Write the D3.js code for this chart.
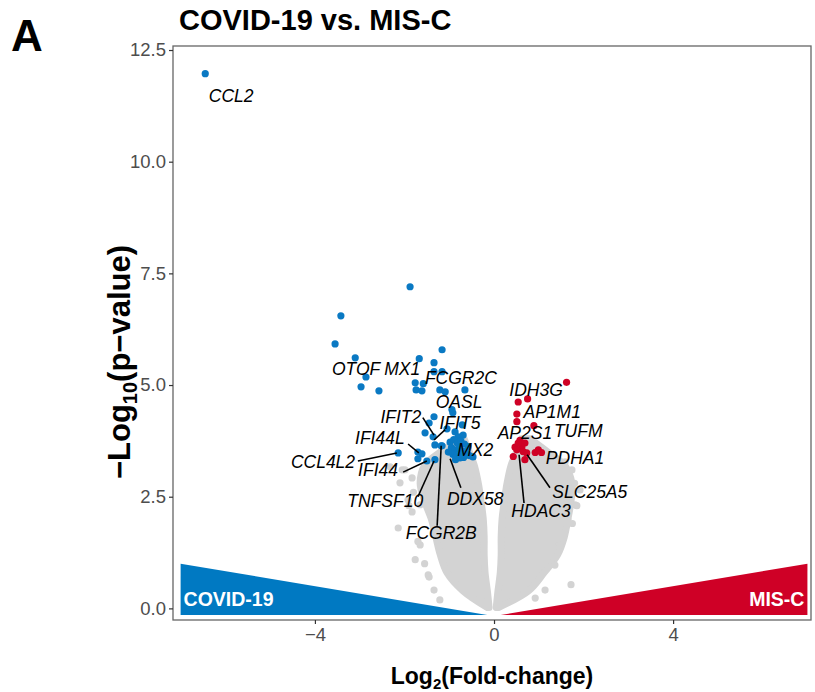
<!DOCTYPE html>
<html>
<head>
<meta charset="utf-8">
<script src="https://cdn.jsdelivr.net/npm/d3@7"></script>
<style>
  body { margin: 0; background: #fff; }
  svg { font-family: "Liberation Sans", Arial, sans-serif; }
</style>
</head>
<body>
<svg id="chart" width="815" height="692"></svg>
<script>
// blue = higher in COVID-19, red = higher in MIS-C ([log2FC, -log10 p])
const covidGenes = [
  [-6.45, 11.97], [-1.875, 7.20], [-3.42, 6.55], [-3.55, 5.92], [-3.10, 5.61],
  [-1.16, 5.79], [-1.67, 5.59], [-1.34, 5.50], [-2.86, 5.18], [-2.97, 4.96],
  [-2.57, 4.87], [-1.76, 5.05], [-1.58, 5.03], [-1.74, 4.89], [-1.61, 4.87],
  [-1.34, 5.30], [-1.16, 5.30], [-1.21, 4.89], [-1.09, 4.85], [-0.65, 4.89],
  [-0.94, 4.45], [-0.92, 4.38], [-1.34, 4.29], [-1.45, 4.15], [-0.71, 4.11],
  [-1.54, 3.93], [-1.36, 3.84], [-1.05, 4.02], [-0.87, 3.95], [-0.80, 3.84],
  [-0.69, 3.88], [-1.32, 3.66], [-1.16, 3.64],
  [-0.98, 3.72], [-0.90, 3.78], [-0.82, 3.70], [-0.74, 3.75], [-0.66, 3.68],
  [-0.58, 3.62], [-0.95, 3.60], [-0.87, 3.55], [-0.78, 3.58], [-0.70, 3.52],
  [-0.62, 3.48], [-0.92, 3.45], [-0.84, 3.40], [-0.76, 3.44], [-0.68, 3.38],
  [-0.55, 3.42], [-1.02, 3.50], [-0.86, 3.33], [-0.47, 3.39], [-0.76, 3.37],
  [-2.14, 3.48], [-1.70, 3.50], [-1.61, 3.46], [-1.70, 3.35], [-1.50, 3.30],
  [-1.32, 3.33], [-1.18, 3.64]
];
const miscGenes = [
  [1.62, 5.06], [0.54, 4.62], [0.75, 4.69], [0.51, 4.35], [0.51, 4.18],
  [0.89, 4.09], [0.58, 3.76], [0.69, 3.70], [0.47, 3.61], [0.62, 3.61],
  [0.51, 3.55], [0.65, 3.51], [0.73, 3.48], [0.43, 3.40], [0.69, 3.33],
  [0.92, 3.49], [0.99, 3.55], [1.06, 3.49], [0.54, 3.70]
];
// outline of the dense non-significant cloud (dot centres)
const cloudY      = [0.02, 0.4, 0.8, 1.2, 1.6, 2.0, 2.4, 2.8, 3.2, 3.5, 3.8];
const leftOuter   = [-0.15, -0.7, -1.05, -1.2, -1.3, -1.4, -1.55, -1.65, -1.55, -1.2, -0.75];
const leftInner   = [-0.11, -0.15, -0.20, -0.22, -0.22, -0.24, -0.29, -0.35, -0.44, -0.55, -0.67];
const rightInner  = [0.05, 0.09, 0.14, 0.16, 0.16, 0.18, 0.23, 0.29, 0.38, 0.50, 0.61];
const rightOuter  = [0.1, 0.78, 1.12, 1.42, 1.57, 1.65, 1.72, 1.74, 1.58, 1.2, 0.8];
const grayFringe = [
  [-2.32, 3.17], [-2.10, 2.81], [-2.14, 1.80], [-1.99, 3.10], [-1.83, 2.92],
  [-1.55, 1.0], [-1.7, 1.5], [-1.9, 2.3], [-1.45, 0.7], [-1.8, 2.6],
  [-1.83, 2.16], [-1.65, 1.42], [-1.76, 1.09], [-1.47, 0.75], [-1.34, 0.41],
  [-1.21, 0.19], [-1.65, 2.32], [-1.92, 2.43], [-2.05, 3.10],
  [1.72, 0.53], [1.3, 1.0], [1.45, 1.4], [1.75, 1.9], [1.85, 2.3], [1.8, 2.8],
  [1.5, 3.2], [1.25, 3.15], [1.81, 2.32], [1.65, 1.98], [1.47, 1.42],
  [1.36, 0.97], [1.14, 0.41], [0.92, 0.23], [1.92, 2.65], [1.74, 3.10], [1.59, 3.28]
];
const labels = [
  { gene: "CCL2",    lx: -5.87, ly: 11.48 },
  { gene: "OTOF",    lx: -3.08, ly: 5.36 },
  { gene: "MX1",     lx: -2.05, ly: 5.36 },
  { gene: "FCGR2C",  lx: -0.74, ly: 5.16 },
  { gene: "OASL",    lx: -0.78, ly: 4.62 },
  { gene: "IFIT2",   lx: -2.08, ly: 4.29, seg: [-1.59, 4.27, -1.34, 3.88] },
  { gene: "IFIT5",   lx: -0.76, ly: 4.15, seg: [-1.09, 4.00, -1.34, 3.77] },
  { gene: "IFI44L",  lx: -2.55, ly: 3.82, seg: [-1.92, 3.68, -1.68, 3.48] },
  { gene: "CCL4L2",  lx: -3.82, ly: 3.28, seg: [-3.04, 3.30, -2.17, 3.48] },
  { gene: "IFI44",   lx: -2.59, ly: 3.10, seg: [-2.03, 3.05, -1.50, 3.30] },
  { gene: "TNFSF10", lx: -2.43, ly: 2.41, seg: [-1.70, 2.50, -1.34, 3.30] },
  { gene: "FCGR2B",  lx: -1.18, ly: 1.69, seg: [-1.27, 1.85, -1.18, 3.64] },
  { gene: "DDX58",   lx: -0.42, ly: 2.45, seg: [-0.74, 2.70, -0.98, 3.35] },
  { gene: "MX2",     lx: -0.42, ly: 3.55 },
  { gene: "IDH3G",   lx: 0.94,  ly: 4.89 },
  { gene: "AP1M1",   lx: 1.30,  ly: 4.40 },
  { gene: "TUFM",    lx: 1.88,  ly: 3.98 },
  { gene: "AP2S1",   lx: 0.69,  ly: 3.93 },
  { gene: "PDHA1",   lx: 1.81,  ly: 3.37 },
  { gene: "SLC25A5", lx: 2.14,  ly: 2.61, seg: [1.25, 2.70, 0.74, 3.44] },
  { gene: "HDAC3",   lx: 1.05,  ly: 2.18, seg: [0.67, 2.36, 0.56, 3.44] }
];
const xTicks = [-4, 0, 4];
const yTicks = [0, 2.5, 5, 7.5, 10, 12.5];
const covidTri = [[-7, -0.15], [-7, 1.0], [-0.15, -0.15]];
const miscTri  = [[0.15, -0.15], [7, 1.0], [7, -0.15]];

const BLUE = "#0a79c3", RED = "#cf0226", GRAY = "#d3d3d3";

const svg = d3.select("#chart");
const panel = { left: 173, right: 811, top: 46, bottom: 620 };
const x = d3.scaleLinear().domain([-7.17, 7.08]).range([panel.left, panel.right]);
const y = d3.scaleLinear().domain([-0.26, 12.59]).range([panel.bottom, panel.top]);

// direction triangles
const poly = d3.line().x(d => x(d[0])).y(d => y(d[1]));
svg.append("path").attr("d", poly(covidTri) + "Z").attr("fill", "#0079c2");
svg.append("path").attr("d", poly(miscTri) + "Z").attr("fill", "#cf0026");
svg.append("text").attr("x", x(-7) + 3).attr("y", y(-0.15) - 9)
  .attr("fill", "#fff").attr("font-weight", "bold").attr("font-size", 19.5)
  .text("COVID-19");
svg.append("text").attr("x", x(7) - 3).attr("y", y(-0.15) - 9)
  .attr("fill", "#fff").attr("font-weight", "bold").attr("font-size", 19.5)
  .attr("text-anchor", "end").text("MIS-C");

// gray cloud
function lobe(outer, inner) {
  const rows = cloudY.map((v, i) => ({ y: v, a: outer[i], b: inner[i] }));
  return d3.area().curve(d3.curveCatmullRom)
    .y(d => y(d.y)).x0(d => x(d.a)).x1(d => x(d.b))(rows);
}
[[leftOuter, leftInner], [rightInner, rightOuter]].forEach(p => {
  svg.append("path").attr("d", lobe(p[0], p[1]))
    .attr("fill", GRAY).attr("stroke", GRAY)
    .attr("stroke-width", 7).attr("stroke-linejoin", "round");
});
svg.append("g").selectAll("circle").data(grayFringe).join("circle")
  .attr("cx", d => x(d[0])).attr("cy", d => y(d[1])).attr("r", 3.6)
  .attr("fill", GRAY);

svg.append("g").selectAll("circle").data(covidGenes).join("circle")
  .attr("cx", d => x(d[0])).attr("cy", d => y(d[1])).attr("r", 3.6)
  .attr("fill", BLUE);
svg.append("g").selectAll("circle").data(miscGenes).join("circle")
  .attr("cx", d => x(d[0])).attr("cy", d => y(d[1])).attr("r", 3.6)
  .attr("fill", RED);

// labels
svg.append("g").selectAll("line").data(labels.filter(d => d.seg)).join("line")
  .attr("x1", d => x(d.seg[0])).attr("y1", d => y(d.seg[1]))
  .attr("x2", d => x(d.seg[2])).attr("y2", d => y(d.seg[3]))
  .attr("stroke", "#000").attr("stroke-width", 1.6);
svg.append("g").selectAll("text").data(labels).join("text")
  .attr("x", d => x(d.lx)).attr("y", d => y(d.ly)).attr("dy", "0.35em")
  .attr("text-anchor", "middle").attr("font-style", "italic")
  .attr("font-size", 17.5).attr("fill", "#000")
  .text(d => d.gene);

// panel + axes
svg.append("rect").attr("x", panel.left).attr("y", panel.top)
  .attr("width", panel.right - panel.left).attr("height", panel.bottom - panel.top)
  .attr("fill", "none").attr("stroke", "#666").attr("stroke-width", 1.3);

const yAxis = svg.append("g").attr("transform", `translate(${panel.left},0)`)
  .call(d3.axisLeft(y).tickValues(yTicks).tickFormat(d3.format(".1f")).tickSize(4).tickPadding(3));
const xAxis = svg.append("g").attr("transform", `translate(0,${panel.bottom})`)
  .call(d3.axisBottom(x).tickValues(xTicks).tickFormat(d3.format("d")).tickSize(4).tickPadding(4));
[yAxis, xAxis].forEach(g => {
  g.select(".domain").remove();
  g.selectAll(".tick line").attr("stroke", "#333").attr("stroke-width", 1.2);
  g.selectAll(".tick text").attr("fill", "#4d4d4d").attr("font-size", 18.5)
    .attr("font-family", "Liberation Sans, Arial, sans-serif");
});

// titles
svg.append("text").attr("x", 11).attr("y", 51)
  .attr("font-weight", "bold").attr("font-size", 44).text("A");
svg.append("text").attr("x", 179).attr("y", 30)
  .attr("font-weight", "bold").attr("font-size", 29).text("COVID-19 vs. MIS-C");

const xt = svg.append("text").attr("x", (panel.left + panel.right) / 2).attr("y", 684)
  .attr("text-anchor", "middle").attr("font-weight", "bold").attr("font-size", 23);
xt.append("tspan").text("Log");
xt.append("tspan").attr("dy", 5).attr("font-size", 15).text("2");
xt.append("tspan").attr("dy", -5).text("(Fold-change)");

const yt = svg.append("text")
  .attr("transform", "translate(130,362) rotate(-90)")
  .attr("text-anchor", "middle").attr("font-weight", "bold").attr("font-size", 31);
yt.append("tspan").text("\u2212Log");
yt.append("tspan").attr("dy", 7).attr("font-size", 20).text("10");
yt.append("tspan").attr("dy", -7).text("(p\u2212value)");
</script>
</body>
</html>
